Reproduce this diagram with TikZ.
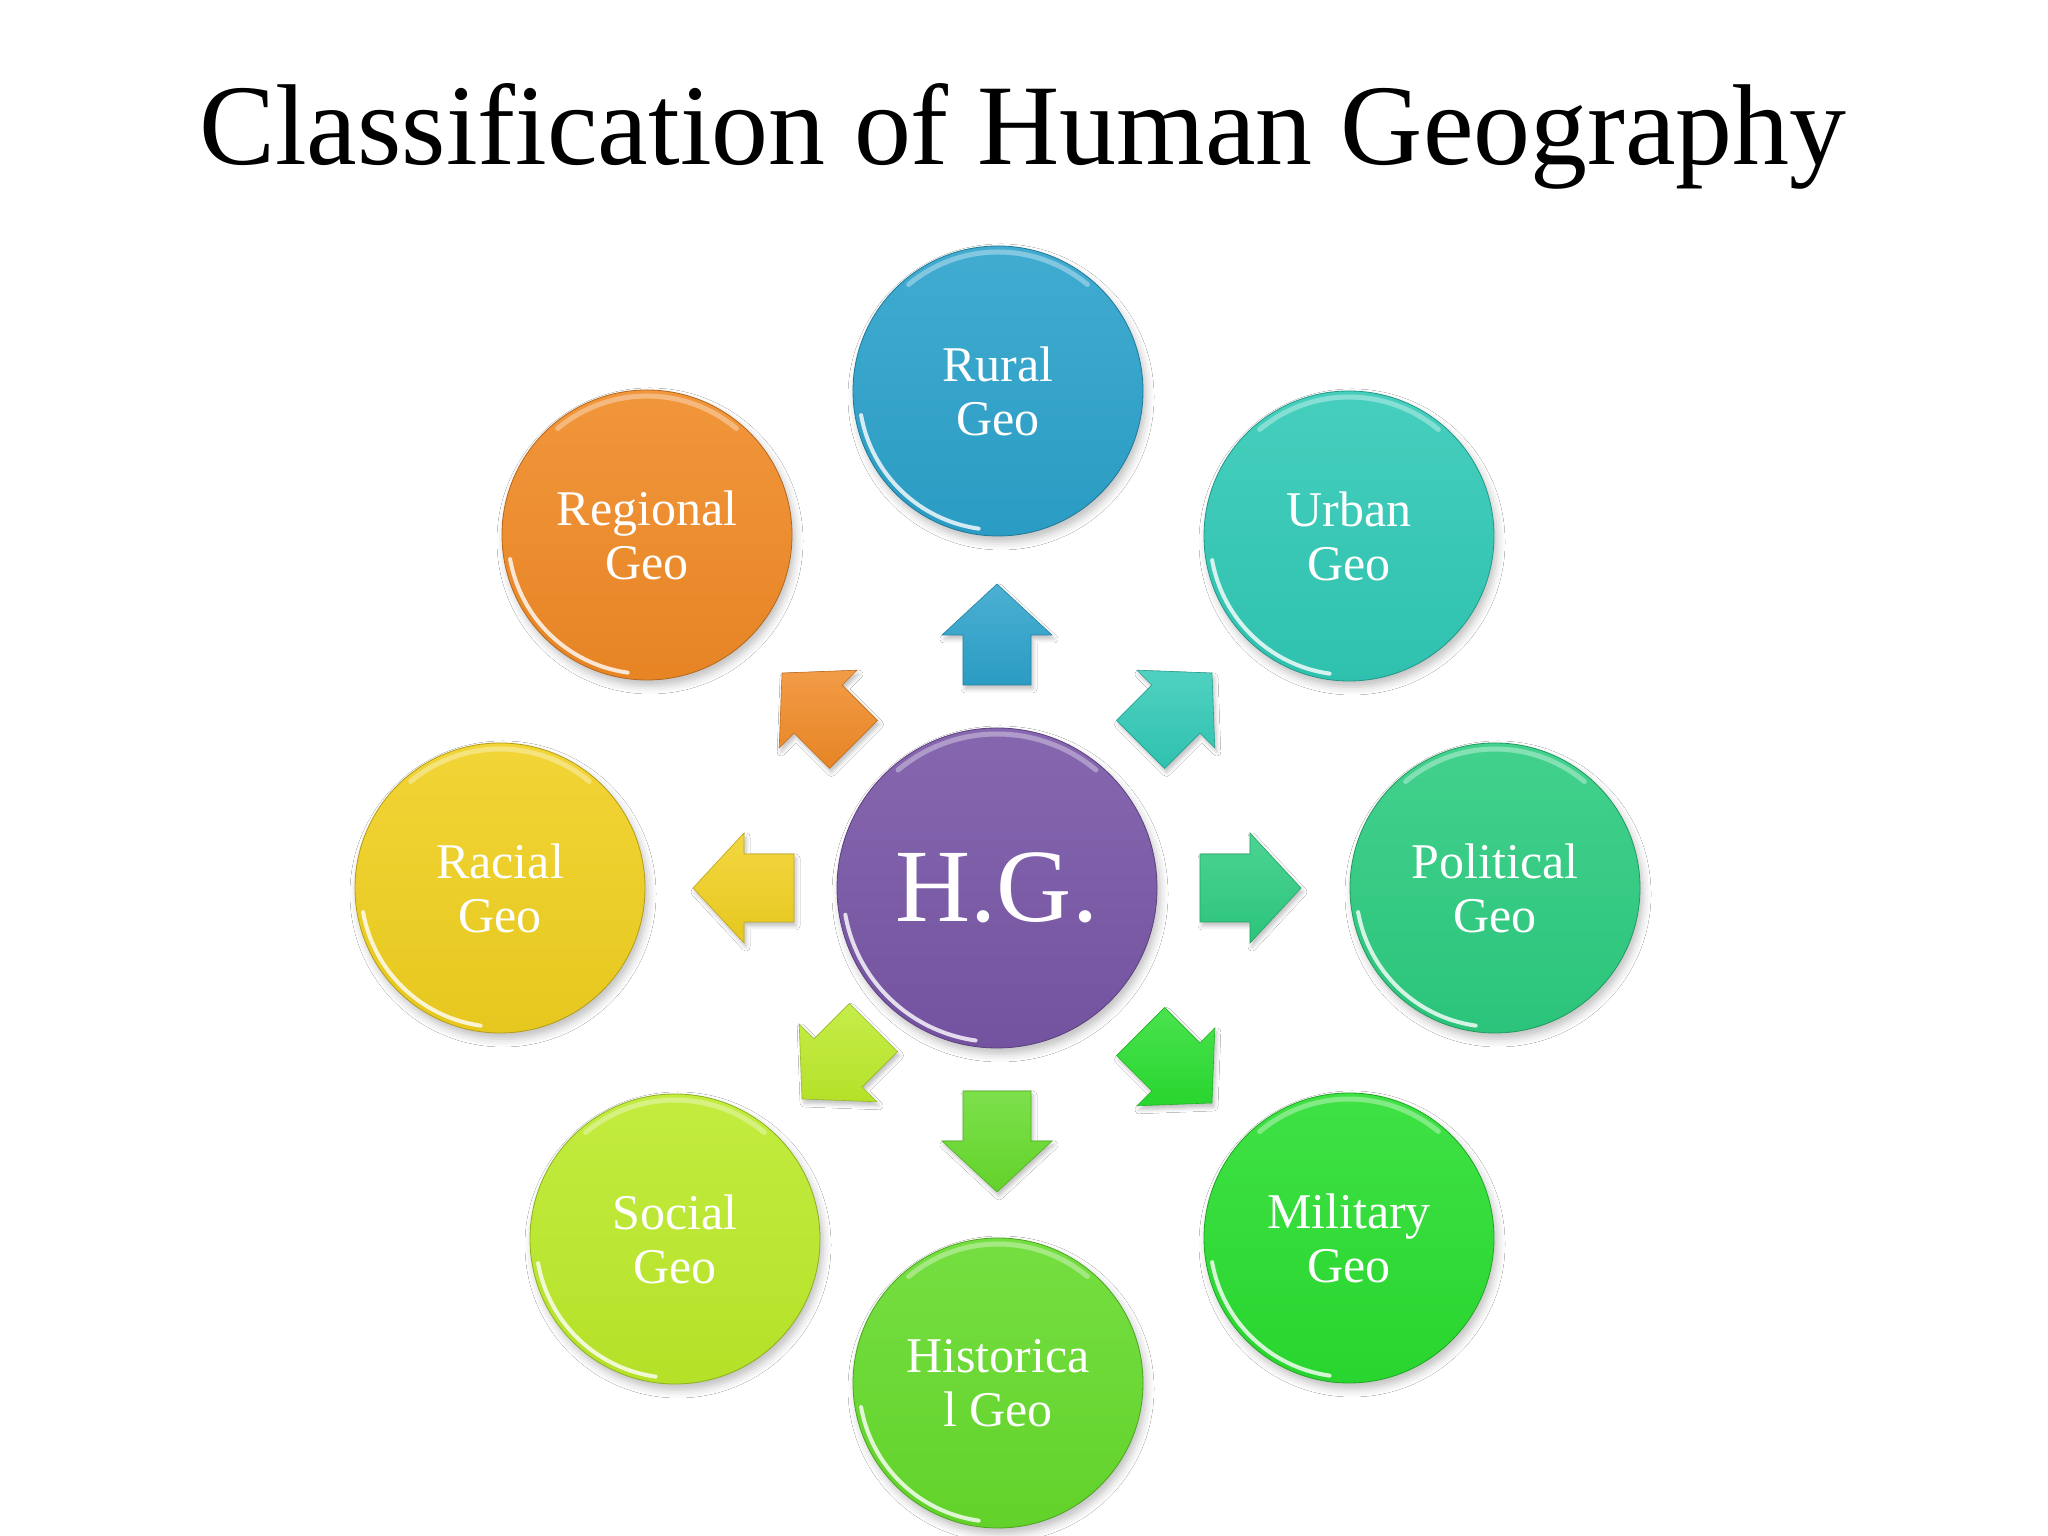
\documentclass[tikz,border=0pt]{standalone}
\usepackage{fontspec}
\setmainfont{Liberation Serif}
\usetikzlibrary{shadows.blur}

\definecolor{cRural}{HTML}{2CA2CB}
\definecolor{cUrban}{HTML}{31C9B6}
\definecolor{cPol}{HTML}{2DCC80}
\definecolor{cMil}{HTML}{2ADE30}
\definecolor{cHist}{HTML}{66DB2C}
\definecolor{cSoc}{HTML}{BCEA2A}
\definecolor{cRac}{HTML}{F0D020}
\definecolor{cReg}{HTML}{F08A26}
\definecolor{cHG}{HTML}{7856A6}

\newcommand\bubblefont{\fontsize{50}{54}\selectfont}
\newcommand\hgfont{\fontsize{104}{110}\selectfont}
\newcommand\titlefont{\fontsize{115}{120}\selectfont}

\tikzset{
  bubble/.style 2 args={circle, minimum size={2*#2}, inner sep=0pt,
    top color=#1!90!white, bottom color=#1!96!black,
    draw=#1!75!black, line width=0.8pt, text=white, align=center,
    font=\bubblefont,
    blur shadow={shadow xshift=3pt, shadow yshift=-6pt, shadow blur radius=8pt, shadow opacity=25},
    path picture={
      \draw[white, opacity=.8, line width=4pt, line cap=round]
        ([shift={(190:{#2-6})}]path picture bounding box.center)
        arc[start angle=190, end angle=262, radius={#2-6}];
      \draw[white, opacity=.35, line width=5pt, line cap=round]
        ([shift={(50:{#2-6})}]path picture bounding box.center)
        arc[start angle=50, end angle=130, radius={#2-6}];
    }},
  arrowbody/.style={top color=#1!85!white, bottom color=#1!96!black,
    draw=#1!80!black, line width=0.6pt, line join=miter,
    blur shadow={shadow xshift=2pt, shadow yshift=-4pt, shadow blur radius=4pt, shadow opacity=25}}
}

% #1 angle, #2 colour, #3 extra shift, #4 name of the arrow's middle point
\newcommand\blockarrow[4]{%
  \begin{scope}[shift={(hg.center)}, shift={#3}, rotate=#1]
    \coordinate (#4) at (253,0);
    \path[arrowbody=#2]
      (203,-34) -- (253,-34) -- (253,-55) -- (304,0) -- (253,55) -- (253,34) -- (203,34) -- cycle;
  \end{scope}}

\begin{document}
\begin{tikzpicture}[x=1pt,y=1pt]
\useasboundingbox (0,0) rectangle (2048,1536);
\fill[white] (0,0) rectangle (2048,1536);

\node[anchor=base, font=\titlefont, inner sep=0pt, xscale=0.99] (title) at (1023,1371) {Classification of Human Geography};

\node[bubble={cHG}{160}, font=\hgfont] (hg) at (997,648) {H.G.};

\node[bubble={cRural}{145}] (rural) at (998,1145) {Rural\\Geo};
\node[bubble={cUrban}{145}] (urban) at (1349,1000) {Urban\\Geo};
\node[bubble={cPol}{145}] (political) at (1495,648) {Political\\Geo};
\node[bubble={cMil}{145}] (military) at (1349,298) {Military\\Geo};
\node[bubble={cHist}{145}] (historical) at (998,153) {Historica\\l Geo};
\node[bubble={cSoc}{145}] (social) at (675,297) {Social\\Geo};
\node[bubble={cRac}{145}] (racial) at (500,648) {Racial\\Geo};
\node[bubble={cReg}{145}] (regional) at (647,1001) {Regional\\Geo};

\blockarrow{90}{cRural}{(0,0)}{aRural}
\blockarrow{45}{cUrban}{(0,0)}{aUrban}
\blockarrow{0}{cPol}{(0,0)}{aPol}
\blockarrow{-45}{cMil}{(0,0)}{aMil}
\blockarrow{-90}{cHist}{(0,0)}{aHist}
\blockarrow{-135}{cSoc}{(20,4)}{aSoc}
\blockarrow{180}{cRac}{(0,0)}{aRac}
\blockarrow{135}{cReg}{(0,0)}{aReg}
\end{tikzpicture}
\end{document}
